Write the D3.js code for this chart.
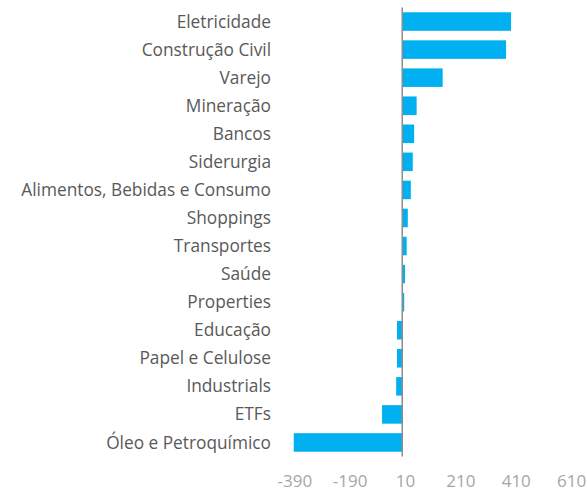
<!DOCTYPE html>
<html lang="pt">
<head>
    <meta charset="UTF-8">
    <title>Setores</title>
    <script src="https://d3js.org/d3.v7.min.js"></script>
    <style>
        body { margin: 0; background: #fff; }
        svg { display: block; }
        text { font-family: "Open Sans", "Noto Sans", sans-serif; }
    </style>
</head>
<body>
    <script>
        let width = 587,
            height = 491;

        // dados
        let categories = ['Eletricidade', 'Construção Civil', 'Varejo', 'Mineração', 'Bancos', 'Siderurgia',
            'Alimentos, Bebidas e Consumo', 'Shoppings', 'Transportes', 'Saúde', 'Properties', 'Educação',
            'Papel e Celulose', 'Industrials', 'ETFs', 'Óleo e Petroquímico'];
        let values = [393, 375, 146, 52, 43, 38, 31, 20, 16, 10, 7, -19, -19, -22, -73, -392];
        let tickValues = [-390, -190, 10, 210, 410, 610];

        let svg = d3.select('body')
                    .append('svg')
                    .attr('width', width)
                    .attr('height', height);

        let x = d3.scaleLinear()
                  .domain([-390, 610])
                  .range([294.3, 571.1]);

        let y = d3.scaleBand()
                  .domain(categories)
                  .range([7.5, 456.5])
                  .paddingInner(0.34)
                  .paddingOuter(0.17);

        // barras
        svg.selectAll('rect.bar')
           .data(values)
           .enter()
           .append('rect')
           .attr('class', 'bar')
           .attr('x', d => x(Math.min(0, d)))
           .attr('y', (d, i) => y(categories[i]))
           .attr('width', d => Math.abs(x(d) - x(0)))
           .attr('height', y.bandwidth())
           .attr('fill', '#00b0f0');

        // linha do eixo vertical
        svg.append('line')
           .attr('x1', x(0)).attr('x2', x(0))
           .attr('y1', y.range()[0]).attr('y2', y.range()[1])
           .attr('stroke', '#8c8c8c')
           .attr('stroke-width', 1.5);

        // rótulos das categorias
        svg.selectAll('text.cat')
           .data(categories)
           .enter()
           .append('text')
           .attr('class', 'cat')
           .attr('x', 271)
           .attr('y', d => y(d) + y.bandwidth() / 2)
           .attr('dy', '0.35em')
           .attr('text-anchor', 'end')
           .attr('fill', '#595959')
           .style('font-size', '17.3px')
           .text(d => d);

        // eixo x
        let xAxis = d3.axisBottom(x)
                      .tickValues(tickValues)
                      .tickFormat(d => String(d))
                      .tickSize(0)
                      .tickPadding(0);

        let gx = svg.append('g')
                    .attr('transform', 'translate(0, 475)')
                    .call(xAxis);
        gx.select('.domain').remove();
        gx.selectAll('text')
          .attr('fill', '#a6a6a6')
          .style('font-size', '17px')
          .style('font-family', '"Open Sans", "Noto Sans", sans-serif');
    </script>
</body>
</html>
